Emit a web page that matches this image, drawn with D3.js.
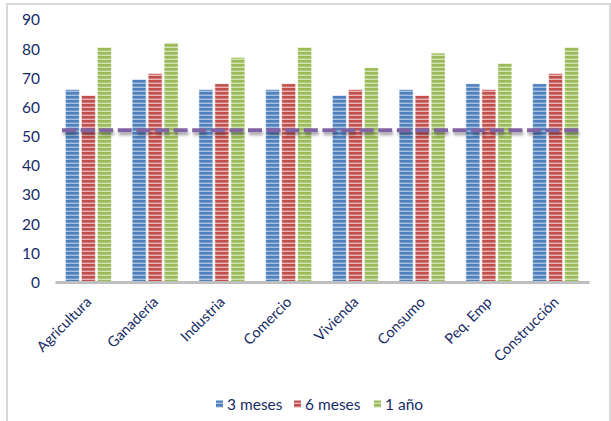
<!DOCTYPE html>
<html><head><meta charset="utf-8">
<script src="https://cdn.jsdelivr.net/npm/d3@7"></script>
<style>html,body{margin:0;padding:0;background:#fff;}svg{display:block;}</style>
</head><body>
<svg id="c" width="611" height="421"></svg>
<script>
const categories = ["Agricultura","Ganadería","Industria","Comercio","Vivienda","Consumo","Peq. Emp","Construcción"];
const seriesNames = ["3 meses","6 meses","1 año"];
const s3meses = [66, 69.5, 66, 66, 64, 66, 68, 68];
const s6meses = [64, 71.5, 68, 68, 66, 64, 66, 71.5];
const s1anio  = [80.5, 82, 77, 80.5, 73.5, 78.5, 75, 80.5];
const reference = 52;
const yTicks = [0,10,20,30,40,50,60,70,80,90];

const colors = {"3 meses":["#4F81BD","#A7C0E0"], "6 meses":["#C0504D","#E8B5B4"], "1 año":["#9BBB59","#D3E3B5"]};
const values = {"3 meses":s3meses, "6 meses":s6meses, "1 año":s1anio};
const textColor = "#172B66";
const font = "Lato, 'Open Sans', sans-serif";

const svg = d3.select("#c");
const defs = svg.append("defs");
seriesNames.forEach((s,i)=>{
  const p = defs.append("pattern").attr("id","pat"+i).attr("patternUnits","userSpaceOnUse")
    .attr("width",6).attr("height",4);
  p.append("rect").attr("width",6).attr("height",4).attr("fill",colors[s][0]);
  p.append("rect").attr("y",2.6).attr("width",6).attr("height",1.4).attr("fill",colors[s][1]);
});
const f = defs.append("filter").attr("id","sh").attr("filterUnits","userSpaceOnUse")
  .attr("x",0).attr("y",100).attr("width",611).attr("height",60);
f.append("feDropShadow").attr("dx",1).attr("dy",3).attr("stdDeviation",1.6).attr("flood-color","#000").attr("flood-opacity",0.35);

// outer border
svg.append("rect").attr("x",7).attr("y",4).attr("width",603).attr("height",440)
  .attr("fill","none").attr("stroke","#d9d9d9").attr("stroke-width",2);

const x0 = d3.scaleBand().domain(categories).range([55, 589]).padding(0);
const x1 = d3.scaleBand().domain(seriesNames).range([-23, 23]).paddingInner(0.125).paddingOuter(0);
const y = d3.scaleLinear().domain([0,90]).range([282, 19.5]);

// y axis labels
const yAxis = d3.axisLeft(y).tickValues(yTicks).tickSize(0).tickPadding(0);
const yg = svg.append("g").attr("transform","translate(40,0)").call(yAxis);
yg.select(".domain").remove();
yg.selectAll("text").attr("fill",textColor).style("font-family",font).style("font-size","15.5px").attr("dy","0.35em");

// bars
const groups = svg.append("g").selectAll("g").data(categories).join("g")
  .attr("transform",d=>`translate(${x0(d)+x0.bandwidth()/2},0)`);
seriesNames.forEach((s,si)=>{
  groups.append("rect")
    .attr("x",x1(s)).attr("width",x1.bandwidth())
    .attr("y",(d,i)=>y(values[s][i])).attr("height",(d,i)=>y(0)-y(values[s][i]))
    .attr("fill",`url(#pat${si})`)
    .attr("stroke","rgba(255,255,255,0.55)").attr("stroke-width",1);
});

// x axis line
const xAxis = d3.axisBottom(x0).tickSize(0).tickFormat("");
const xg = svg.append("g").attr("transform","translate(0,282)").call(xAxis);
xg.select(".domain").attr("stroke","#bfbfbf").attr("stroke-width",3);

// x labels
svg.append("g").selectAll("text").data(categories).join("text")
  .attr("transform",d=>`translate(${x0(d)+x0.bandwidth()/2+4},303) rotate(-45)`)
  .attr("text-anchor","end").attr("fill",textColor)
  .style("font-family",font).style("font-size","14.5px").text(d=>d);

// reference dashed line
svg.append("line").attr("x1",62).attr("x2",580).attr("y1",y(reference)).attr("y2",y(reference))
  .attr("stroke","#8064A2").attr("stroke-width",4).attr("stroke-dasharray","14,4.6")
  .attr("filter","url(#sh)");

// legend
const leg = svg.append("g");
const legX = [216, 294, 374];
seriesNames.forEach((s,i)=>{
  leg.append("rect").attr("x",legX[i]).attr("y",400.5).attr("width",7).attr("height",7).attr("fill",`url(#pat${i})`);
  leg.append("text").attr("x",legX[i]+11).attr("y",410).attr("fill",textColor)
    .style("font-family",font).style("font-size","15.5px").text(s);
});
</script>
</body></html>
